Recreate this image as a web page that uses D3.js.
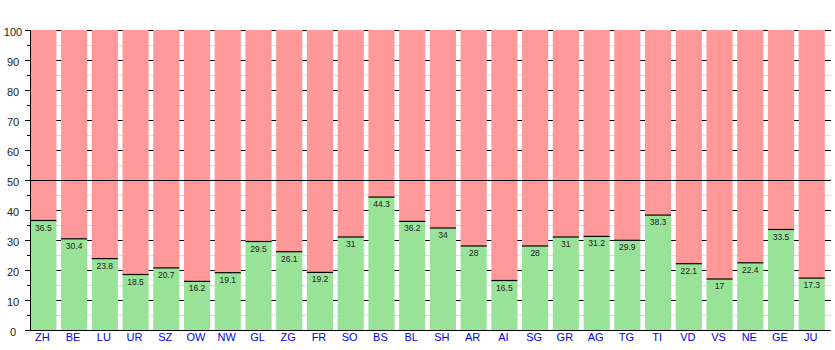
<!DOCTYPE html>
<html><head><meta charset="utf-8">
<script src="https://cdn.jsdelivr.net/npm/d3@7"></script>
<style>body{margin:0;background:#fff}svg{display:block}text{font-family:"Liberation Sans",Arial,sans-serif}</style>
</head><body><svg id="c" width="835" height="350"></svg>
<script>
const categories = ["ZH","BE","LU","UR","SZ","OW","NW","GL","ZG","FR","SO","BS","BL","SH","AR","AI","SG","GR","AG","TG","TI","VD","VS","NE","GE","JU"];
const yesValues = [36.5,30.4,23.8,18.5,20.7,16.2,19.1,29.5,26.1,19.2,31,44.3,36.2,34,28,16.5,28,31,31.2,29.9,38.3,22.1,17,22.4,33.5,17.3];
const totalValue = 100;
const majorTicks = [0,10,20,30,40,50,60,70,80,90,100];
const minorTicks = [5,15,25,35,45,55,65,75,85,95];
const refLine = 50;

(function(){
const svg = d3.select("#c");
const mL = 30, mR = 831, mT = 30, mB = 330;
const x = d3.scaleBand().domain(categories).range([30.3, 824.8]).paddingInner(0.15).paddingOuter(0);
const y = d3.scaleLinear().domain([0,100]).range([mB, mT]);

svg.append("g").selectAll("line").data(minorTicks).join("line")
  .attr("x1", mL).attr("x2", mR).attr("y1", d=>y(d)+0.5).attr("y2", d=>y(d)+0.5)
  .attr("stroke", "#dddddd").attr("stroke-width", 1);
svg.append("g").selectAll("line").data(majorTicks).join("line")
  .attr("x1", mL-5).attr("x2", mR).attr("y1", d=>Math.round(y(d))+0.5).attr("y2", d=>Math.round(y(d))+0.5)
  .attr("stroke", "#000").attr("stroke-width", 1);
svg.append("g").selectAll("line").data(minorTicks).join("line")
  .attr("x1", mL-3).attr("x2", mL).attr("y1", d=>y(d)+0.5).attr("y2", d=>y(d)+0.5)
  .attr("stroke", "#000");

const g = svg.append("g");
g.selectAll("rect.no").data(categories).join("rect").attr("class","no")
  .attr("x", d=>x(d)).attr("width", x.bandwidth())
  .attr("y", y(totalValue)).attr("height", (d,i)=>y(yesValues[i]) - y(totalValue))
  .attr("fill", "#ff9999");
g.selectAll("rect.yes").data(categories).join("rect").attr("class","yes")
  .attr("x", d=>x(d)).attr("width", x.bandwidth())
  .attr("y", (d,i)=>y(yesValues[i])).attr("height", (d,i)=>y(0)-y(yesValues[i]))
  .attr("fill", "#99e399");
g.selectAll("line.sep").data(categories).join("line").attr("class","sep")
  .attr("x1", d=>x(d)).attr("x2", d=>x(d)+x.bandwidth())
  .attr("y1", (d,i)=>y(yesValues[i])).attr("y2", (d,i)=>y(yesValues[i]))
  .attr("stroke", "#000").attr("stroke-width", 1.2);
g.selectAll("text.val").data(categories).join("text").attr("class","val")
  .attr("x", d=>x(d)+x.bandwidth()/2).attr("y", (d,i)=>y(yesValues[i])+10)
  .attr("text-anchor","middle").attr("font-size","8.5px").attr("fill","#222")
  .text((d,i)=>yesValues[i]);

svg.append("line").attr("x1", mL).attr("x2", mR)
  .attr("y1", y(refLine)+0.5).attr("y2", y(refLine)+0.5).attr("stroke","#000");
svg.append("line").attr("x1", mL).attr("x2", mR)
  .attr("y1", y(0)+0.5).attr("y2", y(0)+0.5).attr("stroke","#000");
svg.append("line").attr("x1", mL+0.5).attr("x2", mL+0.5)
  .attr("y1", y(100)).attr("y2", y(0)+1).attr("stroke","#000");

svg.append("g").selectAll("text").data(majorTicks).join("text")
  .attr("x", 13).attr("y", d=>y(d)+5.5).attr("text-anchor","middle")
  .attr("font-size","11px").attr("fill","#222").text(d=>d);
svg.append("g").selectAll("text").data(categories).join("text")
  .attr("x", d=>x(d)+x.bandwidth()/2-1).attr("y", 341)
  .attr("text-anchor","middle").attr("font-size","11px").attr("fill","#0000ee").text(d=>d);
})();
</script></body></html>
